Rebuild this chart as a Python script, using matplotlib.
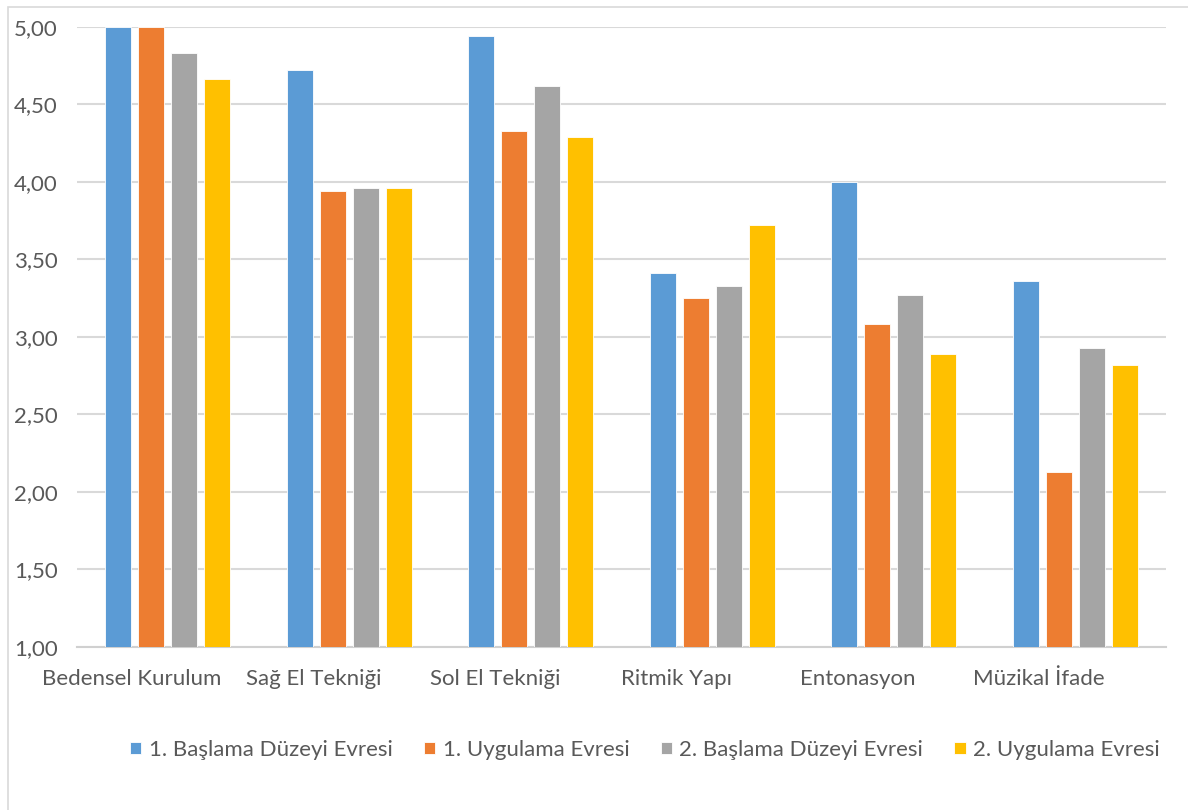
import matplotlib.pyplot as plt
import matplotlib.transforms as mtransforms
import numpy as np
from matplotlib.patches import Rectangle

plt.rcParams['font.family'] = ['Lato', 'DejaVu Sans']

categories = ['Bedensel Kurulum', 'Sağ El Tekniği', 'Sol El Tekniği',
              'Ritmik Yapı', 'Entonasyon', 'Müzikal İfade']
series_names = ['1. Başlama Düzeyi Evresi', '1. Uygulama Evresi',
                '2. Başlama Düzeyi Evresi', '2. Uygulama Evresi']
basla1 = [5.00, 4.72, 4.94, 3.41, 4.00, 3.36]
uygula1 = [5.00, 3.94, 4.33, 3.25, 3.08, 2.13]
basla2 = [4.83, 3.96, 4.62, 3.33, 3.27, 2.93]
uygula2 = [4.66, 3.96, 4.29, 3.72, 2.89, 2.82]
yticks = [1.0, 1.5, 2.0, 2.5, 3.0, 3.5, 4.0, 4.5, 5.0]

colors = ['#5b9bd5', '#ed7d31', '#a5a5a5', '#ffc000']
text_color = '#595959'

fig = plt.figure(figsize=(11.88, 8.10), dpi=100)
W, H = 1188, 810

# çerçeve (grafik alanı kenarlığı)
fig.patches.append(Rectangle((8 / W, -0.1), 1.2, 1 - 7 / H + 0.1,
                             transform=fig.transFigure, fill=False,
                             edgecolor='#d9d9d9', linewidth=1.2))

ax = fig.add_axes([77 / W, 1 - 647 / H, (1166 - 77) / W, (647 - 26.7) / H])

x = np.arange(len(categories))
step = 0.182
width = 0.143
all_series = [basla1, uygula1, basla2, uygula2]
for i, (vals, name) in enumerate(zip(all_series, series_names)):
    offs = (i - 1.5) * step
    ax.bar(x + offs, np.array(vals) - 1.0, width, bottom=1.0,
           color=colors[i], label=name, edgecolor='white', linewidth=0.6,
           zorder=3)

ax.set_xlim(-0.5, len(categories) - 0.5)
ax.set_ylim(1.0, 5.0)
ax.set_yticks(yticks)
ax.set_yticklabels([f'{v:.2f}'.replace('.', ',') for v in yticks])
ax.set_xticks(x)
ax.set_xticklabels(categories)
ax.yaxis.grid(True, color='#d9d9d9', linewidth=1.5, zorder=0)
ax.set_axisbelow(True)
for s in ['top', 'right', 'left']:
    ax.spines[s].set_visible(False)
ax.spines['bottom'].set_color('#d0d0d0')
ax.spines['bottom'].set_linewidth(1.5)
ax.tick_params(axis='both', length=0, colors=text_color, labelsize=16)
ax.tick_params(axis='y', pad=14)
ax.tick_params(axis='x', pad=16)

# kategori etiketleri referansta biraz sola kaymış
shift = mtransforms.ScaledTranslation(-36 / 100, 0, fig.dpi_scale_trans)
for lbl in ax.get_xticklabels():
    lbl.set_transform(lbl.get_transform() + shift)

leg = fig.legend(loc='center', bbox_to_anchor=(645 / W, 1 - 750 / H), ncol=4,
                 frameon=False, fontsize=16, handlelength=0.5,
                 handleheight=0.5, handletextpad=0.35, columnspacing=1.4)
for t in leg.get_texts():
    t.set_color(text_color)

fig.savefig('out.png', dpi=100)
